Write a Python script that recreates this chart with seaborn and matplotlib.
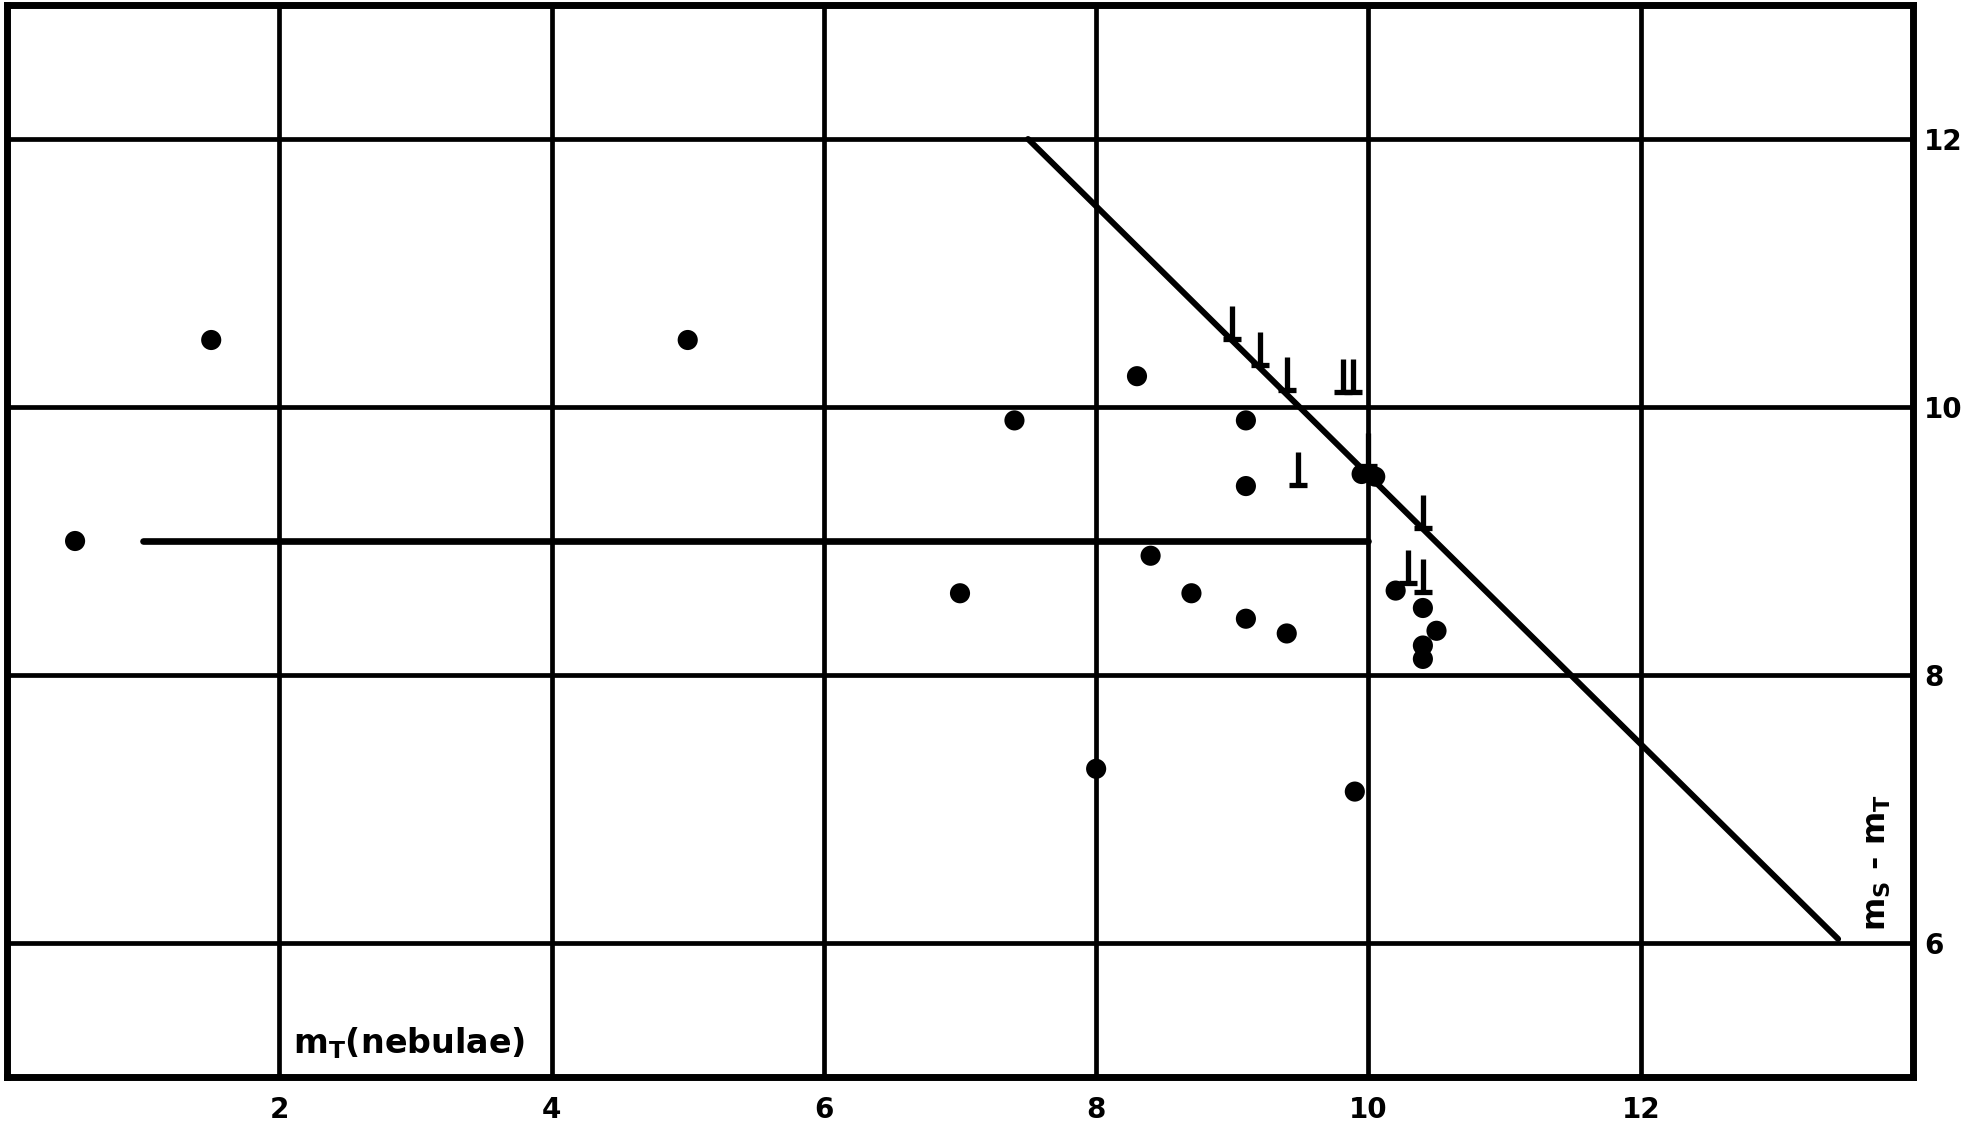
import numpy as np
import pandas as pd
import matplotlib
matplotlib.use("Agg")
import matplotlib.pyplot as plt
from matplotlib.path import Path
import seaborn as sns

# nebulae: total magnitude vs. m_S - m_T
dot_x = [0.5, 1.5, 5.0, 7.4, 8.3, 9.1, 9.1, 8.4, 7.0, 8.7, 9.1, 9.4, 8.0, 9.9,
         10.2, 10.4, 10.5, 10.4, 10.4, 9.95, 10.05]
dot_y = [9.0, 10.5, 10.5, 9.9, 10.23, 9.9, 9.41, 8.89, 8.61, 8.61, 8.42, 8.31, 7.3, 7.13,
         8.63, 8.5, 8.33, 8.22, 8.12, 9.5, 9.48]

# limit symbols (base of the stem)
lim_x = [9.0, 9.2, 9.4, 9.81, 9.89, 9.48, 10.0, 10.4, 10.29, 10.4]
lim_y = [10.51, 10.31, 10.13, 10.11, 10.11, 9.42, 9.56, 9.1, 8.69, 8.62]

# drawn lines
diag_x = [7.5, 13.45]
diag_y = [12.0, 6.03]
horiz_x = [1.0, 10.0]
horiz_y = [9.0, 9.0]

x_ticks = [2, 4, 6, 8, 10, 12]
y_ticks = [6, 8, 10, 12]

dots = pd.DataFrame({"mT": dot_x, "diff": dot_y})
lims = pd.DataFrame({"mT": lim_x, "diff": lim_y})

sns.set_style("white")
plt.rcParams["font.family"] = ["DejaVu Sans"]
plt.rcParams["mathtext.fontset"] = "custom"
plt.rcParams["mathtext.rm"] = "DejaVu Sans:bold"
plt.rcParams["mathtext.default"] = "rm"

fig = plt.figure(figsize=(19.63, 11.25), dpi=100)
ax = fig.add_axes([7 / 1963, 48 / 1125, 1906 / 1963, 1072 / 1125])

# "inverted T" marker: stem up from the point, short foot at the base
perp = Path([(0, 0), (0, 1.6), (-0.45, 0), (0.45, 0)],
            [Path.MOVETO, Path.LINETO, Path.MOVETO, Path.LINETO])

sns.lineplot(x=diag_x, y=diag_y, color="black", lw=4.3, ax=ax)
sns.lineplot(x=horiz_x, y=horiz_y, color="black", lw=4.8, ax=ax)
sns.scatterplot(data=dots, x="mT", y="diff", color="black", s=210,
                edgecolor="none", ax=ax, zorder=3)
sns.scatterplot(data=lims, x="mT", y="diff", marker=perp, s=2300,
                color="black", edgecolor="black", linewidth=3.8, ax=ax, zorder=3)

ax.set_xlim(0, 14)
ax.set_ylim(5, 13)
ax.set_xticks(x_ticks)
ax.set_yticks(y_ticks)
ax.grid(True, color="black", lw=3.4)
ax.set_axisbelow(True)
ax.yaxis.tick_right()
ax.tick_params(axis="both", length=0, labelsize=20, labelcolor="black")
ax.tick_params(axis="x", pad=14)
ax.tick_params(axis="y", pad=8)
for lab in ax.get_xticklabels() + ax.get_yticklabels():
    lab.set_fontweight("bold")
for sp in ax.spines.values():
    sp.set_visible(True)
    sp.set_color("black")
    sp.set_linewidth(5)
ax.set_xlabel("")
ax.set_ylabel("")

ax.text(2.1, 5.12, "m$_T$(nebulae)", fontsize=24, fontweight="bold",
        color="black", ha="left", va="bottom")
ax.text(13.74, 6.6, "m$_S$ - m$_T$", fontsize=23, fontweight="bold",
        color="black", rotation=90, ha="center", va="center")

fig.savefig("out.png", dpi=100)
